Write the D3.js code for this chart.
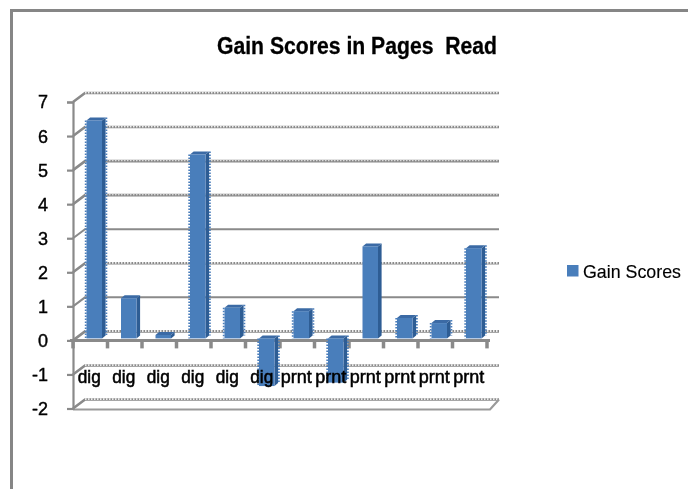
<!DOCTYPE html>
<html><head><meta charset="utf-8">
<script src="https://cdn.jsdelivr.net/npm/d3@7/dist/d3.min.js"></script>
<style>html,body{margin:0;padding:0;background:#fff}svg{display:block}text{font-family:"Liberation Sans",Arial,sans-serif;fill:#000}</style>
</head><body><div id="c"></div>
<script>
const categories = ["dig","dig","dig","dig","dig","dig","prnt","prnt","prnt","prnt","prnt","prnt"];
const gainScores = [6.4,1.18,0.1,5.4,0.9,-1.4,0.8,-1.3,2.7,0.6,0.45,2.65];
const yTicks = [-2,-1,0,1,2,3,4,5,6,7];
const seriesName = "Gain Scores";
const chartTitle = "Gain Scores in Pages  Read";
const dottedGrid = [7,6,5,4,2,0,-1,-2];
const jaggedBars = [0,5,7,11,10,9,4,6,3];

const W=688,H=489, blue="#4a7ebb", dark="#2f5d94", topc="#3b6ba5", grey="#8a8a8a";
const dx=12, dy=-9, mx=5, my=-3;
const svg=d3.select("#c").append("svg").attr("width",W).attr("height",H);
const defs=svg.append("defs");
defs.append("filter").attr("id","soft").attr("x","-5%").attr("y","-5%").attr("width","110%").attr("height","110%").append("feGaussianBlur").attr("stdDeviation",0.55);
svg.append("path").attr("d",`M11.5,${H}V10.5H${W}`).attr("fill","none").attr("stroke","#868686").attr("stroke-width",3);

const y=d3.scaleLinear().domain([-2,7]).range([408.5,102]);
const x=d3.scaleBand().domain(d3.range(categories.length)).range([73,487]);
const g=svg.append("g").attr("filter","url(#soft)");

// walls and gridlines
const xEnd=487;
yTicks.forEach(t=>{
  const yy=y(t);
  const dotted=dottedGrid.includes(t);
  g.append("path").attr("d",`M73,${yy}L${73+dx},${yy+dy}H${xEnd+dx}`).attr("fill","none").attr("stroke","#8a8a8a").attr("stroke-width",dotted?2.6:2);
  if(dotted) g.append("line").attr("x1",73+dx).attr("x2",xEnd+dx).attr("y1",yy+dy-0.4).attr("y2",yy+dy-0.4)
    .attr("stroke","#fff").attr("stroke-width",t>=4&&t<6?1:1.8).attr("stroke-dasharray","1.5 1.5").attr("opacity",0.85);
});
// floor edge
g.append("path").attr("d",`M73,${y(-2)+1}H${xEnd+3}L${xEnd+dx},${y(-2)+dy}`).attr("fill","none").attr("stroke","#9a9a9a").attr("stroke-width",2.2);

// axes via d3
const yAxis=d3.axisLeft(y).tickValues(yTicks).tickSize(6).tickPadding(10).tickFormat(d3.format("d"));
const ya=g.append("g").attr("transform","translate(73,0)").call(yAxis);
ya.select(".domain").attr("stroke",grey).attr("stroke-width",2.2);
ya.selectAll(".tick line").attr("stroke",grey).attr("stroke-width",2.2);
ya.selectAll("text").attr("font-size",18).attr("x",-25).attr("dy","0.33em").attr("stroke","#000").attr("stroke-width",0.4).text(d=>d<0?"-"+Math.abs(d):d);

// zero axis
const zero=y(0);
g.append("line").attr("x1",70).attr("x2",xEnd+3).attr("y1",zero).attr("y2",zero).attr("stroke",grey).attr("stroke-width",3);
d3.range(categories.length+1).forEach(i=>{
  const tx=i<categories.length?x(i):xEnd;
  g.append("line").attr("x1",tx).attr("x2",tx).attr("y1",zero).attr("y2",zero+8).attr("stroke",grey).attr("stroke-width",3.5);
});

// bars
const bw=15.5, side=3.6, rise=-3;
const bars=g.selectAll("g.bar").data(gainScores).join("g").attr("class","bar");
const bx=i=>x(i)+x.bandwidth()/2+mx-bw/2-1;
bars.each(function(v,i){
  const s=d3.select(this), X=bx(i), y0=y(0)+my+1, y1=y(v)+my+1, a=Math.min(y0,y1), b=Math.max(y0,y1);
  const jag=jaggedBars.includes(i);
  s.append("path").attr("d",`M${X+bw},${a}l${side},${rise}V${b+rise}l${-side},${-rise}Z`).attr("fill",dark);
  s.append("path").attr("d",`M${X},${a}l${side},${rise}h${bw}l${-side},${-rise}Z`).attr("fill",topc);
  s.append("rect").attr("x",X).attr("y",a).attr("width",bw).attr("height",b-a).attr("fill",blue);
  if(jag) s.append("path").attr("d",`M${X-0.8},${a}V${b}M${X+bw+side+0.8},${a+rise}V${b+rise}`).attr("fill","none").attr("stroke",blue).attr("stroke-width",1.8).attr("stroke-dasharray","1.5 1.5");
});

// category labels
g.selectAll("text.cat").data(categories).join("text").attr("class","cat")
  .attr("x",(d,i)=>x(i)+x.bandwidth()/2-1).attr("y",383).attr("text-anchor","middle")
  .attr("font-size",18).attr("stroke","#000").attr("stroke-width",0.55).attr("textLength",d=>d==="dig"?23:31).attr("lengthAdjust","spacingAndGlyphs").text(d=>d);

// title
g.append("text").attr("x",217).attr("y",54).attr("font-size",23).attr("font-weight","bold").attr("stroke","#000").attr("stroke-width",0.3)
  .attr("textLength",280).attr("lengthAdjust","spacingAndGlyphs").style("white-space","pre").text(chartTitle);

// legend
g.append("rect").attr("x",567).attr("y",265).attr("width",11.5).attr("height",11.5).attr("fill",blue);
g.append("text").attr("x",583).attr("y",278).attr("font-size",19).attr("stroke","#000").attr("stroke-width",0.15).attr("textLength",98).attr("lengthAdjust","spacingAndGlyphs").text(seriesName);
</script></body></html>
